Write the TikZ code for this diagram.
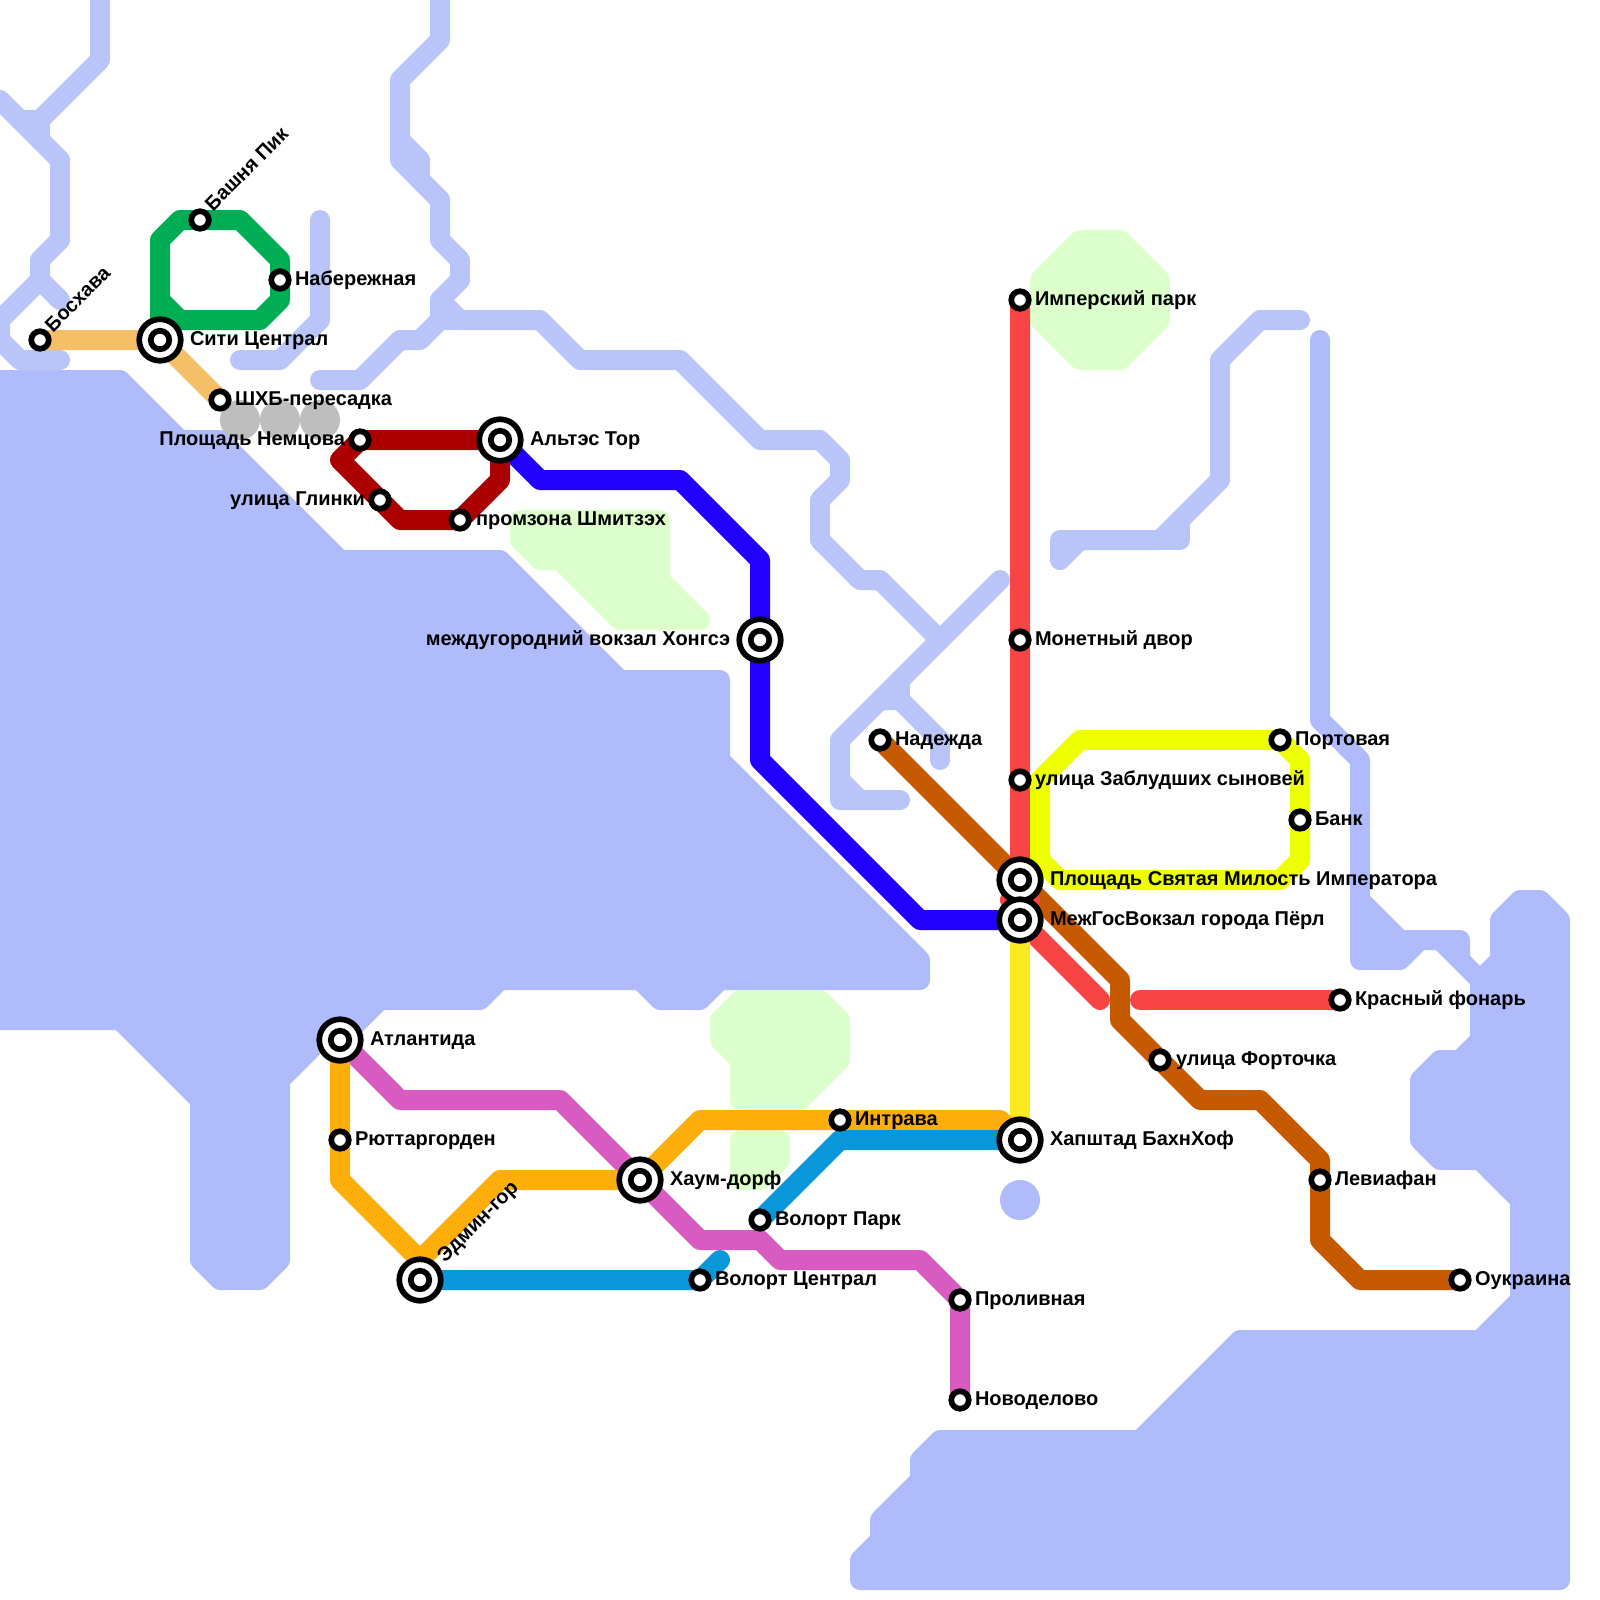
\documentclass[tikz,border=0pt]{standalone}
\usepackage{fontspec}
\setmainfont{Liberation Sans}
\usepackage{xcolor}
\usetikzlibrary{positioning}
\definecolor{agua}{HTML}{B0BBFC}
\definecolor{rio}{HTML}{B9C4F9}
\definecolor{parque}{HTML}{DCFFCC}
\definecolor{gris}{HTML}{BEBEBE}
\definecolor{arena}{HTML}{F4BF66}
\definecolor{verde}{HTML}{00AD55}
\definecolor{granate}{HTML}{AA0000}
\definecolor{azul}{HTML}{2200FF}
\definecolor{rojo}{HTML}{F74444}
\definecolor{marron}{HTML}{C55A00}
\definecolor{lima}{HTML}{EEFF00}
\definecolor{amarillo}{HTML}{FCE91F}
\definecolor{ambar}{HTML}{FDAE0B}
\definecolor{celeste}{HTML}{0A97D9}
\definecolor{magenta}{HTML}{D85BC2}
\tikzset{
  water/.style={fill=agua,draw=agua,line width=20pt,line join=round},
  park/.style={fill=parque,draw=parque,line width=20pt,line join=round},
  river/.style={draw=rio,line width=20pt,line join=round,line cap=round},
  metroline/.style={line width=20pt,line join=round,line cap=round},
  stsmall/.style={circle,draw=black,fill=white,line width=5.7pt,minimum size=17.5pt,inner sep=0pt,outer sep=0pt},
  stbig/.style={circle,draw=black,fill=white,line width=5.7pt,minimum size=41.5pt,inner sep=0pt,outer sep=0pt},
  stinner/.style={circle,draw=black,fill=white,line width=5.7pt,minimum size=18.5pt,inner sep=0pt,outer sep=0pt},
  lbl/.style={inner sep=0pt,outer sep=0pt,text=black,font=\fontsize{20}{22}\selectfont\bfseries}
}

\begin{document}
\begin{tikzpicture}[x=1pt,y=-1pt]
  \useasboundingbox (0,0) rectangle (1600,1600);

  \foreach \st/\x/\y in {boshava/40/340,siti/160/340,bashnya/200/220,naberezhnaya/280/280,shhb/220/400,
                         nemcova/360/440,altes/500/440,glinki/380/500,promzona/460/520,hongse/760/640,
                         nadezhda/880/740,imperskiy/1020/300,monetny/1020/640,zabludshih/1020/780,
                         portovaya/1280/740,bank/1300/820,milost/1020/880,perl/1020/920,fonar/1340/1000,
                         fortochka/1160/1060,hapshtad/1020/1140,leviafan/1320/1180,oukraina/1460/1280,
                         atlantida/340/1040,ruttar/340/1140,edmin/420/1280,haum/640/1180,intrava/840/1120,
                         volpark/760/1220,volcentr/700/1280,prolivnaya/960/1300,novodelovo/960/1400}{
    \coordinate (\st) at (\x,\y);
  }

  % water
  \path[water] (-20,380) -- (120,380) -- (180,440) -- (220,440) -- (340,560) -- (500,560) -- (620,680) -- (720,680)
    -- (720,760) -- (920,960) -- (920,980) -- (720,980) -- (700,1000) -- (660,1000) -- (640,980) -- (500,980)
    -- (480,1000) -- (380,1000) -- (340,1040) -- (320,1040) -- (280,1080) -- (280,1260) -- (260,1280) -- (220,1280)
    -- (200,1260) -- (200,1100) -- (120,1020) -- (-20,1020) -- cycle;
  \path[water] (860,1580) -- (860,1560) -- (880,1540) -- (880,1520) -- (920,1480) -- (920,1460) -- (940,1440)
    -- (1140,1440) -- (1240,1340) -- (1480,1340) -- (1520,1300) -- (1520,1200) -- (1480,1160) -- (1440,1160)
    -- (1420,1140) -- (1420,1080) -- (1440,1060) -- (1460,1060) -- (1480,1040) -- (1480,980) -- (1440,940)
    -- (1420,940) -- (1400,960) -- (1360,960) -- (1360,900) -- (1400,940) -- (1460,940) -- (1460,960)
    -- (1480,980) -- (1500,960) -- (1500,920) -- (1520,900) -- (1540,900) -- (1560,920) -- (1560,1580) -- cycle;
  \draw[river,draw=agua] (1320,340) -- (1320,720) -- (1360,760) -- (1360,900);
  \fill[agua] (1020,1200) circle (20);

  % rivers
  \draw[river] (100,-20) -- (100,60) -- (40,120);
  \draw[river] (0,100) -- (60,160) -- (60,240) -- (40,260) -- (40,280) -- (0,320) -- (0,340) -- (20,360) -- (60,360);
  \draw[river] (20,120) -- (40,120) -- (40,140);
  \draw[river] (40,280) -- (60,300);
  \draw[river] (240,360) -- (280,360) -- (320,320) -- (320,220);
  \draw[river] (440,-20) -- (440,40) -- (400,80) -- (400,160) -- (440,200) -- (440,240) -- (460,260) -- (460,280)
    -- (440,300) -- (440,320) -- (420,340) -- (400,340) -- (360,380) -- (320,380);
  \draw[river] (400,140) -- (420,160) -- (420,180) -- (440,200);
  \draw[river] (440,300) -- (460,320) -- (540,320) -- (580,360) -- (680,360) -- (760,440) -- (820,440) -- (840,460)
    -- (840,480) -- (820,500) -- (820,540) -- (860,580) -- (880,580) -- (940,640);
  \draw[river] (440,320) -- (460,320);
  \draw[river] (1000,580) -- (840,740) -- (840,800) -- (900,800);
  \draw[river] (840,780) -- (860,800);
  \draw[river] (880,700) -- (900,700) -- (940,740) -- (940,760);
  \draw[river] (900,680) -- (900,700);
  \draw[river] (1300,320) -- (1260,320) -- (1220,360) -- (1220,480) -- (1160,540) -- (1060,540) -- (1060,560) -- (1080,540);
  \draw[river] (1180,520) -- (1180,540) -- (1160,540);

  % parks
  \path[park] (1080,240) -- (1120,240) -- (1160,280) -- (1160,320) -- (1120,360) -- (1080,360) -- (1040,320) -- (1040,280) -- cycle;
  \path[park] (520,520) -- (660,520) -- (660,580) -- (700,620) -- (620,620) -- (560,560) -- (540,560) -- (520,540) -- cycle;
  \path[park] (740,1000) -- (820,1000) -- (840,1020) -- (840,1060) -- (800,1100) -- (740,1100) -- (740,1060) -- (720,1040) -- (720,1020) -- cycle;
  \path[park] (740,1140) -- (780,1140) -- (780,1160) -- (760,1180) -- (740,1180) -- cycle;

  \foreach \i in {240,280,320}{
    \fill[gris] (\i,420) circle (20);
  }

  % lines
  \draw[metroline,draw=arena] (boshava) -- (siti) -- (shhb);
  \draw[metroline,draw=verde] (siti) -- (160,240) -- (180,220) -- (bashnya) -- (240,220) -- (280,260) -- (naberezhnaya)
    -- (280,300) -- (260,320) -- (180,320) -- (160,300);
  \draw[metroline,draw=azul] (altes) -- (540,480) -- (680,480) -- (760,560) -- (hongse) -- (760,760) -- (920,920) -- (perl);
  \draw[metroline,draw=granate] (altes) -- (nemcova) -- (340,460) -- (glinki) -- (400,520) -- (promzona) -- (500,480) -- (altes);
  \draw[metroline,draw=marron] (nadezhda) -- (1120,980) -- (1120,1020) -- (fortochka) -- (1200,1100) -- (1260,1100)
    -- (1320,1160) -- (leviafan) -- (1320,1240) -- (1360,1280) -- (oukraina);
  \draw[metroline,draw=rojo] (imperskiy) -- (milost) -- (1010,900) -- (1030,900) -- (perl) -- (1100,1000);
  \draw[metroline,draw=rojo] (1140,1000) -- (fonar);
  \draw[metroline,draw=lima] (1040,860) -- (1040,780) -- (1080,740) -- (portovaya) -- (1300,760) -- (bank) -- (1300,860)
    -- (1280,880) -- (1060,880) -- (1040,860);
  \draw[metroline,draw=amarillo] (perl) -- (hapshtad);
  \draw[metroline,draw=magenta] (atlantida) -- (400,1100) -- (560,1100) -- (haum) -- (700,1240) -- (760,1240) -- (780,1260)
    -- (920,1260) -- (prolivnaya) -- (novodelovo);
  \draw[metroline,draw=ambar] (atlantida) -- (ruttar) -- (340,1180) -- (420,1260) -- (500,1180) -- (haum) -- (700,1120)
    -- (intrava) -- (1000,1120) -- (hapshtad);
  \draw[metroline,draw=ambar] (420,1260) -- (edmin);
  \draw[metroline,draw=celeste] (edmin) -- (volcentr) -- (720,1260);
  \draw[metroline,draw=celeste] (volpark) -- (840,1140) -- (hapshtad);

  % stations
  \foreach \st in {boshava,bashnya,naberezhnaya,shhb,nemcova,glinki,promzona,nadezhda,imperskiy,monetny,zabludshih,
                   portovaya,bank,fonar,fortochka,leviafan,oukraina,ruttar,intrava,volpark,volcentr,prolivnaya,novodelovo}{
    \node[stsmall] (n\st) at (\st) {};
  }
  \foreach \st in {siti,altes,hongse,milost,perl,hapshtad,atlantida,edmin,haum}{
    \node[stbig] (n\st) at (\st) {};
    \node[stinner] (m\st) at (\st) {};
  }

  % labels
  \foreach \st/\x/\y/\txt in {naberezhnaya/295/285/Набережная,siti/190/345/Сити Централ,shhb/235/405/ШХБ-пересадка,
                              altes/530/445/Альтэс Тор,promzona/476/525/промзона Шмитзэх,
                              imperskiy/1035/305/Имперский парк,monetny/1035/645/Монетный двор,nadezhda/895/745/Надежда,
                              zabludshih/1035/785/улица Заблудших сыновей,portovaya/1295/745/Портовая,bank/1315/825/Банк,
                              milost/1050/885/Площадь Святая Милость Императора,perl/1050/925/МежГосВокзал города Пёрл,
                              fonar/1355/1005/Красный фонарь,fortochka/1176/1065/улица Форточка,
                              hapshtad/1050/1145/Хапштад БахнХоф,leviafan/1335/1185/Левиафан,oukraina/1475/1285/Оукраина,
                              prolivnaya/975/1305/Проливная,novodelovo/975/1405/Новоделово,volcentr/715/1285/Волорт Централ,
                              volpark/775/1225/Волорт Парк,intrava/855/1125/Интрава,haum/670/1185/Хаум-дорф,
                              atlantida/370/1045/Атлантида,ruttar/355/1145/Рюттаргорден}{
    \node[lbl,anchor=base west] (l\st) at (\x,\y) {\txt};
  }
  \foreach \st/\x/\y/\txt in {nemcova/345/445/Площадь Немцова,glinki/365/505/улица Глинки,hongse/730/645/междугородний вокзал Хонгсэ}{
    \node[lbl,anchor=base east] (l\st) at (\x,\y) {\txt};
  }
  \foreach \st/\x/\y/\txt in {boshava/53/333/Босхава,bashnya/213/212/Башня Пик,edmin/445/1263/Эдмин-гор}{
    \node[lbl,anchor=base west,rotate=45] (l\st) at (\x,\y) {\txt};
  }
\end{tikzpicture}
\end{document}
